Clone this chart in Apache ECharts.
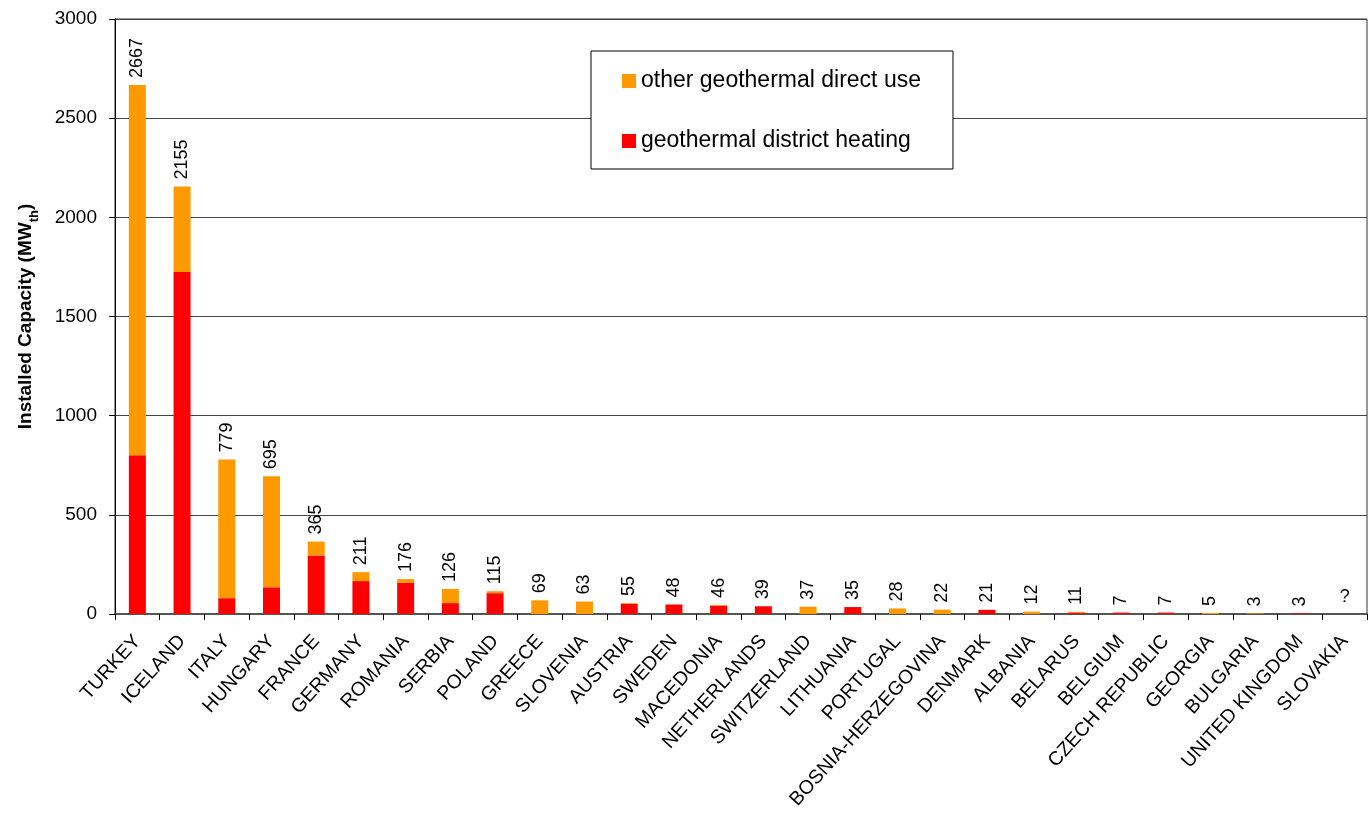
<!DOCTYPE html>
<html>
<head>
<meta charset="utf-8">
<script src="https://cdn.jsdelivr.net/npm/echarts@6/dist/echarts.min.js"></script>
<style>html,body{margin:0;padding:0;background:#fff;}#c{width:1369px;height:819px;}</style>
</head>
<body>
<div id="c"></div>
<script>
const categories = ['TURKEY','ICELAND','ITALY','HUNGARY','FRANCE','GERMANY','ROMANIA','SERBIA','POLAND','GREECE','SLOVENIA','AUSTRIA','SWEDEN','MACEDONIA','NETHERLANDS','SWITZERLAND','LITHUANIA','PORTUGAL','BOSNIA-HERZEGOVINA','DENMARK','ALBANIA','BELARUS','BELGIUM','CZECH REPUBLIC','GEORGIA','BULGARIA','UNITED KINGDOM','SLOVAKIA'];
const districtHeating = [800,1725,80,135,295,166,158,55,105,0,0,52,48,42,39,0,35,0,0,21,0,7,7,7,0,0,3,null];
const otherDirectUse = [1867,430,699,560,70,45,18,71,10,69,63,3,0,4,0,37,0,28,22,0,12,4,0,0,5,3,0,null];
const totalLabels = ['2667','2155','779','695','365','211','176','126','115','69','63','55','48','46','39','37','35','28','22','21','12','11','7','7','5','3','3','?'];
const yTicks = [0,500,1000,1500,2000,2500,3000];

const FONT = 'Liberation Sans, Arial, sans-serif';

const labelData = totalLabels.map((t) => {
  if (t === '?') {
    return { value: 0, label: { formatter: '?', rotate: 0, align: 'center', verticalAlign: 'bottom', distance: 8 } };
  }
  return { value: 0 };
});

const chart = echarts.init(document.getElementById('c'));
chart.setOption({
  animation: false,
  backgroundColor: '#fff',
  textStyle: { fontFamily: FONT, color: '#000' },
  grid: { left: 115, right: 2, top: 19, bottom: 205, show: true, borderColor: '#333', borderWidth: 1 },
  legend: {
    data: ['other geothermal direct use', 'geothermal district heating'],
    orient: 'vertical',
    left: 591, top: 51,
    padding: [18, 32, 16, 31],
    itemGap: 36,
    itemWidth: 14, itemHeight: 14,
    itemTextGap: 6,
    borderColor: '#000', borderWidth: 1,
    backgroundColor: '#fff',
    icon: 'rect',
    textStyle: { fontSize: 23, color: '#000', fontFamily: FONT, lineHeight: 24 }
  },
  xAxis: {
    type: 'category',
    data: categories,
    axisLine: { lineStyle: { color: '#555', width: 2 } },
    axisTick: { show: true, length: 6, lineStyle: { color: '#000' } },
    axisLabel: { rotate: 48, fontSize: 19.5, color: '#000', interval: 0, margin: 24 }
  },
  yAxis: {
    type: 'value',
    min: 0, max: 3000, interval: 500,
    name: '{a|Installed Capacity (MW}{b|th}{a|)}',
    nameLocation: 'middle',
    nameRotate: 90,
    nameGap: 80,
    nameTextStyle: {
      rich: {
        a: { fontSize: 19, fontWeight: 'bold', color: '#000', fontFamily: FONT, lineHeight: 24, verticalAlign: 'bottom' },
        b: { fontSize: 13, fontWeight: 'bold', color: '#000', fontFamily: FONT, lineHeight: 24, verticalAlign: 'bottom', padding: [0, 0, -6, 0] }
      }
    },
    axisLine: { show: true, lineStyle: { color: '#000', width: 1 } },
    axisTick: { show: true, length: 6, lineStyle: { color: '#000' } },
    axisLabel: { fontSize: 19, color: '#000', margin: 18, formatter: v => String(v) },
    splitLine: { show: true, lineStyle: { color: '#444', width: 1 } }
  },
  series: [
    {
      name: 'geothermal district heating',
      type: 'bar', stack: 'total', barWidth: 17,
      itemStyle: { color: '#FF0000' },
      data: districtHeating
    },
    {
      name: 'other geothermal direct use',
      type: 'bar', stack: 'total', barWidth: 17,
      itemStyle: { color: '#FF9900' },
      data: otherDirectUse
    },
    {
      name: 'totals',
      type: 'bar', stack: 'total', barWidth: 17,
      itemStyle: { color: 'transparent' },
      label: {
        show: true,
        position: 'top',
        rotate: 90,
        align: 'left',
        verticalAlign: 'middle',
        distance: 7,
        fontSize: 18,
        color: '#000',
        formatter: p => totalLabels[p.dataIndex]
      },
      data: labelData
    }
  ]
});
</script>
</body>
</html>
